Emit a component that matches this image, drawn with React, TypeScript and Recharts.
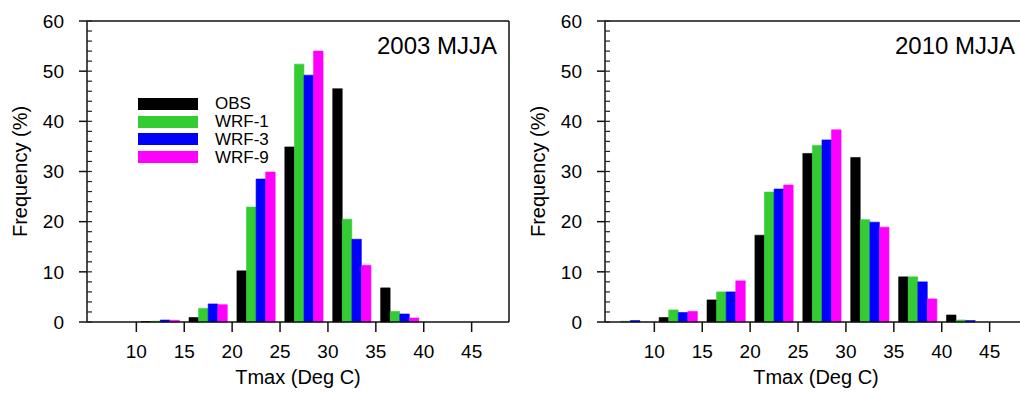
import { BarChart, Bar, XAxis, YAxis, Legend } from 'recharts'

// lower edge of each 5-degree Tmax bin (Deg C)
const BIN_STARTS = [5, 10, 15, 20, 25, 30, 35, 40]

// frequency (%) per bin
const OBS_2003 = [0, 0.1, 0.9, 10.2, 34.9, 46.5, 6.8, 0]
const WRF1_2003 = [0, 0.15, 2.7, 22.9, 51.4, 20.5, 2.1, 0]
const WRF3_2003 = [0, 0.4, 3.6, 28.5, 49.2, 16.5, 1.6, 0]
const WRF9_2003 = [0, 0.35, 3.45, 29.9, 54.0, 11.3, 0.8, 0]

const OBS_2010 = [0, 0.9, 4.4, 17.3, 33.6, 32.8, 9.0, 1.4]
const WRF1_2010 = [0.15, 2.4, 6.0, 25.9, 35.2, 20.4, 9.0, 0.4]
const WRF3_2010 = [0.3, 1.9, 6.0, 26.5, 36.3, 19.9, 8.0, 0.3]
const WRF9_2010 = [0, 2.1, 8.2, 27.3, 38.3, 18.9, 4.6, 0]

const X_TICKS = [10, 15, 20, 25, 30, 35, 40, 45]
// minor ticks every 2 %, labelled every 10 %
const Y_TICKS = [0, 2, 4, 6, 8, 10, 12, 14, 16, 18, 20, 22, 24, 26, 28, 30, 32, 34, 36, 38, 40, 42, 44, 46, 48, 50, 52, 54, 56, 58, 60]
const Y_LABELS = [0, 10, 20, 30, 40, 50, 60]

const SERIES = [
  { key: 'obs', name: 'OBS', color: '#000000' },
  { key: 'wrf1', name: 'WRF-1', color: '#33cc33' },
  { key: 'wrf3', name: 'WRF-3', color: '#0000ff' },
  { key: 'wrf9', name: 'WRF-9', color: '#ff00ff' },
]

const X_DOMAIN: [number, number] = [4.85, 48.9]
const FONT = '"Liberation Sans", Arial, Helvetica, sans-serif'
const AXIS = { stroke: '#111', strokeWidth: 1.5 }

// each bin holds 4 one-degree bars: OBS, WRF-1, WRF-3, WRF-9
function buildRows(values: number[][]) {
  const rows: Record<string, number>[] = []
  BIN_STARTS.forEach((b, bi) => {
    SERIES.forEach((s, si) => {
      rows.push({ x: b + 1 + si, [s.key]: values[si][bi] })
    })
  })
  return rows
}

// inward minor tick everywhere, outward major tick + label on multiples of 10
function YTick({ x, y, payload }: any) {
  const major = Y_LABELS.includes(payload.value)
  return (
    <g>
      <line x1={x} x2={x + 5} y1={y} y2={y} stroke="#222" strokeWidth={1.2} />
      {major && (
        <>
          <line x1={x - 8} x2={x} y1={y} y2={y} stroke="#111" strokeWidth={1.5} />
          <text x={x - 23} y={y} dy="0.355em" textAnchor="end" fontSize={19} fill="#000">
            {payload.value}
          </text>
        </>
      )}
    </g>
  )
}

function LegendBox({ payload }: any) {
  return (
    <div style={{ fontFamily: FONT, fontSize: 17, color: '#000' }}>
      {(payload || []).map((p: any) => (
        <div key={p.value} style={{ display: 'flex', alignItems: 'center', height: 17.8 }}>
          <span style={{ width: 60, height: 12, background: p.color, display: 'inline-block' }} />
          <span style={{ marginLeft: 17, lineHeight: '17px' }}>{p.value}</span>
        </div>
      ))}
    </div>
  )
}

function Panel({ title, values, left, legend }: { title: string; values: number[][]; left: number; legend?: boolean }) {
  const data = buildRows(values)
  return (
    <div style={{ position: 'absolute', left, top: 0, width: 510, height: 396 }}>
      <BarChart width={510} height={396} data={data} margin={{ top: 20, right: 0, bottom: 0, left: 0 }}>
        <XAxis
          xAxisId="top"
          orientation="top"
          type="number"
          dataKey="x"
          domain={X_DOMAIN}
          allowDataOverflow
          height={1}
          tick={false}
          tickLine={false}
          axisLine={AXIS}
        />
        <XAxis
          type="number"
          dataKey="x"
          domain={X_DOMAIN}
          ticks={X_TICKS}
          allowDataOverflow
          height={74}
          tickSize={10}
          tickMargin={13}
          tick={{ fill: '#000', fontSize: 19 }}
          axisLine={AXIS}
          tickLine={AXIS}
          label={{ value: 'Tmax (Deg C)', position: 'insideBottom', offset: 12, fill: '#000', fontSize: 20 }}
        />
        <YAxis
          type="number"
          domain={[0, 60]}
          ticks={Y_TICKS}
          interval={0}
          width={87}
          tickSize={0}
          tickMargin={0}
          tick={YTick}
          axisLine={AXIS}
          tickLine={false}
          label={{ value: 'Frequency (%)', angle: -90, position: 'insideLeft', offset: 20, fill: '#000', fontSize: 20, style: { textAnchor: 'middle' } }}
        />
        <YAxis
          yAxisId="frame"
          orientation="right"
          type="number"
          domain={[0, 60]}
          width={1}
          tick={false}
          tickLine={false}
          axisLine={AXIS}
        />
        {legend && (
          <Legend
            layout="vertical"
            align="center"
            verticalAlign="middle"
            wrapperStyle={{ left: 138, top: 95, width: 160 }}
            content={LegendBox}
          />
        )}
        {SERIES.map(s => (
          <Bar
            key={s.key}
            dataKey={s.key}
            name={s.name}
            stackId="h"
            fill={s.color}
            stroke={s.color}
            strokeWidth={0.6}
            barSize={9.5}
            isAnimationActive={false}
          />
        ))}
      </BarChart>
      <div
        style={{
          position: 'absolute',
          right: 13,
          top: 34,
          fontFamily: FONT,
          fontSize: 24,
          lineHeight: '24px',
          color: '#000',
        }}
      >
        {title}
      </div>
    </div>
  )
}

export default function App() {
  return (
    <div style={{ position: 'absolute', left: 0, top: 0, width: 1020, height: 396, overflow: 'hidden', background: '#fff', fontFamily: FONT }}>
      <Panel title="2003 MJJA" values={[OBS_2003, WRF1_2003, WRF3_2003, WRF9_2003]} left={0} legend />
      <Panel title="2010 MJJA" values={[OBS_2010, WRF1_2010, WRF3_2010, WRF9_2010]} left={518} />
    </div>
  )
}
